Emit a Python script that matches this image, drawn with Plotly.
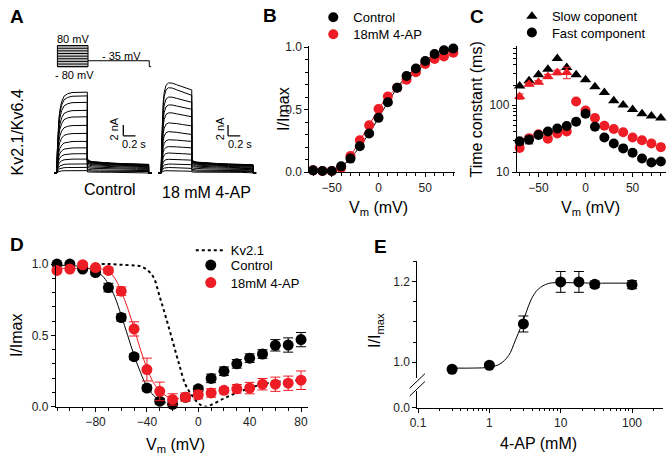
import plotly.graph_objects as go

W, H = 667, 463
RED = '#ee1c24'
FONT = 'Liberation Sans, Arial, sans-serif'

def fx(p):
    return p / W

def fy(p):
    return 1 - p / H

# ---------------- Panel A data (currents in nA, time in s) ----------------
rise_t = [0, 0.01, 0.02, 0.035, 0.05, 0.08, 0.12, 0.18, 0.25, 0.35, 0.5]
ctrl_rise = [0, 0.28, 0.48, 0.66, 0.77, 0.88, 0.95, 0.98, 0.995, 1.0, 1.0]
ap_rise = [0, 0.35, 0.58, 0.78, 0.88, 0.96, 0.99, 1.0, 1.0, 1.0, 1.0]
ap_inact = [1, 1, 1, 1, 1, 0.98, 0.93, 0.8, 0.62, 0.35, 0]
tail_t = [0, 0.03, 0.08, 0.2, 0.4, 0.6, 0.8, 1.0]
tail_frac = [1.0, 0.86, 0.8, 0.75, 0.7, 0.66, 0.63, 0.61]

ctrl_plateau = [15.1, 14.4, 13.2, 11.7, 10.5, 8.9, 7.4, 5.9, 4.7, 3.6, 2.6, 1.7, 1.05, 0.45]
ctrl_tail = [2.65, 2.6, 2.55, 2.5, 2.4, 2.3, 2.15, 1.95, 1.7, 1.4, 1.1, 0.75, 0.45, 0.2]
ap_peak = [17.1, 16.2, 14.4, 12.9, 11.4, 9.5, 7.85, 6.3, 5.0, 3.8, 2.6, 1.7, 1.05, 0.45]
ap_end = [15.5, 14.5, 13.2, 11.9, 10.5, 8.8, 7.2, 5.9, 4.7, 3.5, 2.4, 1.55, 0.87, 0.33]
ap_tail = [2.55, 2.5, 2.45, 2.4, 2.3, 2.2, 2.05, 1.85, 1.6, 1.35, 1.05, 0.7, 0.45, 0.2]

prot_steps = [-80, -60, -40, -20, 0, 20, 40, 60, 80]
prot_hold = -80
prot_tail = -35
step_dur = 0.5
tail_dur = 1.0

# ---------------- Panel B data ----------------
b_v = [-70, -60, -50, -40, -30, -20, -10, 0, 10, 20, 30, 40, 50, 60, 70, 80]
b_ctrl = [0.015, 0.01, 0.01, 0.047, 0.109, 0.208, 0.31, 0.435, 0.56, 0.675, 0.77, 0.83, 0.89, 0.945, 0.975, 0.99]
b_4ap = [0.015, 0.01, 0.01, 0.035, 0.13, 0.255, 0.375, 0.505, 0.605, 0.675, 0.74, 0.8, 0.865, 0.905, 0.925, 0.955]

# ---------------- Panel C data (ms) ----------------
c_v = [-70, -60, -50, -40, -30, -20, -10, 0, 10, 20, 30, 40, 50, 60, 70, 80]
c_slow_ctrl = [194, 232, 286, 346, 500, 366, 286, 241, 189, 155, 117, 101, 86.5, 74.6, 69, 64.6]
c_v_slow4ap = [-70, -60, -50, -40, -30, -20]
c_slow_4ap = [135, 205, 221, 269, 309, 309]
c_slow_4ap_err = [12, 10, 12, 20, 25, 60]
c_fast_ctrl = [28.9, 30.5, 36, 40.5, 45, 49, 56.6, 74.6, 47.9, 33, 26.8, 22.7, 19.5, 16, 14, 14.5]
c_fast_ctrl_err = [3, 4, 0, 0, 0, 0, 0, 0, 0, 0, 0, 0, 0, 0, 0, 0]
c_fast_4ap = [23.1, 32.3, 37, 31.7, 38, 40.5, 114, 83.6, 64.6, 49.5, 44.3, 39.5, 33, 30, 26.8, 23.7]

# ---------------- Panel D data ----------------
d_v = [-110, -100, -90, -80, -70, -60, -50, -40, -30, -20, -10, 0, 10, 20, 30, 40, 50, 60, 70, 80]
d_ctrl = [1.0, 1.0, 0.965, 0.94, 0.835, 0.625, 0.35, 0.13, 0.038, 0.016, 0.065, 0.125, 0.198, 0.248, 0.30, 0.34, 0.369, 0.43, 0.432, 0.47]
d_ctrl_err = [0.01, 0.01, 0.01, 0.015, 0.03, 0.025, 0.02, 0.02, 0.02, 0.02, 0.02, 0.02, 0.03, 0.03, 0.03, 0.03, 0.03, 0.04, 0.05, 0.05]
d_4ap = [0.955, 0.965, 0.995, 0.975, 0.955, 0.81, 0.545, 0.26, 0.107, 0.05, 0.066, 0.084, 0.096, 0.114, 0.125, 0.13, 0.157, 0.157, 0.164, 0.185]
d_4ap_err = [0.01, 0.01, 0.01, 0.01, 0.02, 0.03, 0.05, 0.08, 0.065, 0.04, 0.03, 0.03, 0.03, 0.02, 0.03, 0.04, 0.04, 0.05, 0.05, 0.065]
d_fit_v_ctrl = [-110, -100, -90, -80, -75, -70, -65, -60, -55, -50, -45, -40, -35, -30, -25]
d_fit_ctrl = [0.99, 0.99, 0.98, 0.95, 0.92, 0.86, 0.77, 0.64, 0.50, 0.36, 0.24, 0.14, 0.08, 0.045, 0.025]
d_fit_v_4ap = [-110, -100, -90, -80, -75, -70, -65, -60, -55, -50, -45, -40, -35, -30, -25, -20, -15]
d_fit_4ap = [0.97, 0.97, 0.97, 0.97, 0.965, 0.95, 0.90, 0.81, 0.69, 0.55, 0.40, 0.27, 0.17, 0.11, 0.075, 0.06, 0.055]
kv21_v = [-80, -70, -60, -50, -45, -40, -35, -30, -25, -20, -15, -10, -5, 0, 5, 10, 20, 30, 40, 50, 60, 70, 80]
kv21 = [1.0, 1.0, 0.995, 0.99, 0.985, 0.96, 0.91, 0.77, 0.62, 0.46, 0.30, 0.155, 0.08, 0.025, 0.0, 0.012, 0.058, 0.097, 0.13, 0.158, 0.172, 0.18, 0.187]

# ---------------- Panel E data ----------------
e_c = [0.3, 1, 3, 10, 18, 30, 100]
e_y = [0.982, 0.992, 1.095, 1.2, 1.2, 1.194, 1.193]
e_err = [0.004, 0.004, 0.02, 0.026, 0.026, 0.008, 0.01]
e_fit_c = [0.3, 0.6, 1.0, 1.4, 1.86, 2.3, 2.8, 3.3, 3.9, 4.85, 6.7, 10, 30, 100]
e_fit_y = [0.985, 0.985, 0.987, 0.995, 1.016, 1.053, 1.09, 1.125, 1.158, 1.182, 1.196, 1.198, 1.197, 1.197]

fig = go.Figure()

# ---------- Panel A traces ----------
def build_ctrl():
    xs, ys = [], []
    for amp, tl in zip(ctrl_plateau, ctrl_tail):
        xs += [-0.04]
        ys += [0]
        xs += rise_t
        ys += [amp * f for f in ctrl_rise]
        xs += [step_dur + t for t in tail_t]
        ys += [tl * f for f in tail_frac]
        xs += [step_dur + tail_dur, step_dur + tail_dur + 0.05, None]
        ys += [0, 0, None]
    return xs, ys

def build_ap():
    xs, ys = [], []
    for pk, en, tl in zip(ap_peak, ap_end, ap_tail):
        xs += [-0.04]
        ys += [0]
        xs += rise_t
        ys += [r * (en + (pk - en) * q) for r, q in zip(ap_rise, ap_inact)]
        xs += [step_dur + t for t in tail_t]
        ys += [tl * f for f in tail_frac]
        xs += [step_dur + tail_dur, step_dur + tail_dur + 0.05, None]
        ys += [0, 0, None]
    return xs, ys

cx, cy = build_ctrl()
fig.add_trace(go.Scatter(x=cx, y=cy, mode='lines', line=dict(color='black', width=1),
                         xaxis='x6', yaxis='y6', showlegend=False, hoverinfo='skip'))
ax_, ay_ = build_ap()
fig.add_trace(go.Scatter(x=ax_, y=ay_, mode='lines', line=dict(color='black', width=1),
                         xaxis='x7', yaxis='y7', showlegend=False, hoverinfo='skip'))

# protocol
fig.add_trace(go.Scatter(x=[0, 0, step_dur, step_dur, 0], y=[prot_hold, max(prot_steps), max(prot_steps), prot_hold, prot_hold],
                         mode='lines', fill='toself', fillcolor='rgb(200,200,200)', line=dict(color='black', width=1),
                         xaxis='x8', yaxis='y8', showlegend=False, hoverinfo='skip'))
px_, py_ = [], []
for v in prot_steps:
    px_ += [0, step_dur, None]
    py_ += [v, v, None]
px_ += [step_dur, step_dur + tail_dur, step_dur + tail_dur, step_dur + tail_dur + 0.03]
py_ += [prot_tail, prot_tail, prot_hold, prot_hold]
fig.add_trace(go.Scatter(x=px_, y=py_, mode='lines', line=dict(color='black', width=1),
                         xaxis='x8', yaxis='y8', showlegend=False, hoverinfo='skip'))

# ---------- Panel B ----------
fig.add_trace(go.Scatter(x=b_v, y=b_4ap, mode='lines', showlegend=False,
                         line=dict(color=RED, width=1, shape='spline'), xaxis='x', yaxis='y'))
fig.add_trace(go.Scatter(x=b_v, y=b_ctrl, mode='lines', showlegend=False,
                         line=dict(color='black', width=1, shape='spline'), xaxis='x', yaxis='y'))
fig.add_trace(go.Scatter(x=b_v, y=b_4ap, mode='markers', name='18mM 4-AP', legend='legend2',
                         marker=dict(color=RED, size=10), cliponaxis=False, xaxis='x', yaxis='y'))
fig.add_trace(go.Scatter(x=b_v, y=b_ctrl, mode='markers', name='Control', legend='legend',
                         marker=dict(color='black', size=10), cliponaxis=False, xaxis='x', yaxis='y'))

# ---------- Panel C ----------
fig.add_trace(go.Scatter(x=c_v, y=c_slow_ctrl, mode='markers', name='Slow coponent', legend='legend3',
                         marker=dict(color='black', size=10, symbol='triangle-up'), cliponaxis=False,
                         xaxis='x2', yaxis='y2'))
fig.add_trace(go.Scatter(x=c_v_slow4ap, y=c_slow_4ap, mode='markers', showlegend=False,
                         error_y=dict(type='data', array=c_slow_4ap_err, color=RED, thickness=1, width=4),
                         marker=dict(color=RED, size=10, symbol='triangle-up'), cliponaxis=False,
                         xaxis='x2', yaxis='y2'))
fig.add_trace(go.Scatter(x=c_v, y=c_fast_4ap, mode='markers', showlegend=False,
                         marker=dict(color=RED, size=10), cliponaxis=False, xaxis='x2', yaxis='y2'))
fig.add_trace(go.Scatter(x=c_v, y=c_fast_ctrl, mode='markers', name='Fast component', legend='legend4',
                         error_y=dict(type='data', array=c_fast_ctrl_err, color='black', thickness=1, width=4),
                         marker=dict(color='black', size=10), cliponaxis=False, xaxis='x2', yaxis='y2'))

# ---------- Panel D ----------
fig.add_trace(go.Scatter(x=kv21_v, y=kv21, mode='lines', name='Kv2.1', legend='legend5',
                         line=dict(color='black', width=2, dash='dot', shape='spline'),
                         xaxis='x3', yaxis='y3'))
fig.add_trace(go.Scatter(x=d_fit_v_ctrl, y=d_fit_ctrl, mode='lines', showlegend=False,
                         line=dict(color='black', width=1, shape='spline'), xaxis='x3', yaxis='y3'))
fig.add_trace(go.Scatter(x=d_fit_v_4ap, y=d_fit_4ap, mode='lines', showlegend=False,
                         line=dict(color=RED, width=1, shape='spline'), xaxis='x3', yaxis='y3'))
fig.add_trace(go.Scatter(x=d_v, y=d_ctrl, mode='markers', name='Control', legend='legend6',
                         error_y=dict(type='data', array=d_ctrl_err, color='black', thickness=1, width=5),
                         marker=dict(color='black', size=11), cliponaxis=False, xaxis='x3', yaxis='y3'))
fig.add_trace(go.Scatter(x=d_v, y=d_4ap, mode='markers', name='18mM 4-AP', legend='legend7',
                         error_y=dict(type='data', array=d_4ap_err, color=RED, thickness=1, width=5),
                         marker=dict(color=RED, size=11), cliponaxis=False, xaxis='x3', yaxis='y3'))

# ---------- Panel E ----------
fig.add_trace(go.Scatter(x=[], y=[], mode='markers', showlegend=False, xaxis='x4', yaxis='y4'))
fig.add_trace(go.Scatter(x=e_fit_c, y=e_fit_y, mode='lines', showlegend=False,
                         line=dict(color='black', width=1, shape='spline'), xaxis='x4', yaxis='y5'))
fig.add_trace(go.Scatter(x=e_c, y=e_y, mode='markers', showlegend=False,
                         error_y=dict(type='data', array=e_err, color='black', thickness=1, width=5),
                         marker=dict(color='black', size=11), cliponaxis=False, xaxis='x4', yaxis='y5'))

tickfont = dict(family=FONT, size=12, color='#222')
base_axis = dict(showline=True, linecolor='black', linewidth=1, ticks='outside', ticklen=4,
                 tickcolor='black', showgrid=False, zeroline=False, tickfont=tickfont)
hidden = dict(visible=False, showgrid=False, zeroline=False)

def leg(xpx, ypx):
    return dict(x=fx(xpx), y=fy(ypx), xanchor='left', yanchor='middle', bgcolor='rgba(0,0,0,0)',
                font=dict(family=FONT, size=13, color='black'), itemsizing='trace', borderwidth=0)

layout = dict(
    width=W, height=H, margin=dict(l=0, r=0, t=0, b=0),
    paper_bgcolor='white', plot_bgcolor='white',
    font=dict(family=FONT, color='black'),
    xaxis=dict(base_axis, domain=[fx(305), fx(452.6)], range=[-74, 82], tickvals=[-50, 0, 50],
               minor=dict(dtick=10, tick0=0, ticks='outside', ticklen=3, tickcolor='black'), anchor='y'),
    yaxis=dict(base_axis, domain=[fy(171.7), fy(41.7)], range=[0, 1.0125], tickvals=[0, 0.5, 1.0],
               tickformat='.1f', minor=dict(dtick=0.1, tick0=0, ticks='outside', ticklen=3, tickcolor='black'),
               anchor='x'),
    xaxis2=dict(base_axis, domain=[fx(515), fx(666)], range=[-73, 85.5], tickvals=[-50, 0, 50],
                minor=dict(dtick=10, tick0=0, ticks='outside', ticklen=3, tickcolor='black'), anchor='y2'),
    yaxis2=dict(base_axis, type='log', domain=[fy(171.7), fy(41.7)], range=[1, 2.89],
                tickvals=[10, 100], ticktext=['10', '100'],
                minor=dict(tickvals=[20, 30, 40, 50, 60, 70, 80, 90, 200, 300, 400, 500, 600, 700],
                           ticks='outside', ticklen=2.5, tickcolor='black'), anchor='x2'),
    xaxis3=dict(base_axis, domain=[fx(48.3), fx(304)], range=[-111, 85.7], tickvals=[-80, -40, 0, 40, 80],
                minor=dict(dtick=10, tick0=0, ticks='outside', ticklen=3, tickcolor='black'), anchor='y3'),
    yaxis3=dict(base_axis, domain=[fy(412.3), fy(263.3)], range=[0, 1.018], tickvals=[0, 0.5, 1.0],
                tickformat='.1f', minor=dict(dtick=0.1, tick0=0, ticks='outside', ticklen=3, tickcolor='black'),
                anchor='x3'),
    xaxis4=dict(base_axis, type='log', domain=[fx(414.3), fx(663)], range=[-1.01, 2.435],
                tickvals=[0.1, 1, 10, 100], ticktext=['0.1', '1', '10', '100'],
                minor=dict(tickvals=[0.2, 0.3, 0.4, 0.5, 0.6, 0.7, 0.8, 0.9, 2, 3, 4, 5, 6, 7, 8, 9,
                                     20, 30, 40, 50, 60, 70, 80, 90, 200],
                           ticks='outside', ticklen=2.5, tickcolor='black'), anchor='y4'),
    yaxis4=dict(base_axis, domain=[fy(413.3), fy(396)], range=[0, 0.042], tickvals=[0], ticktext=['0.0'],
                anchor='x4'),
    yaxis5=dict(base_axis, domain=[fy(383), fy(263.3)], range=[0.960, 1.251], tickvals=[1.0, 1.2],
                tickformat='.1f', minor=dict(dtick=0.05, tick0=0, ticks='outside', ticklen=3, tickcolor='black'),
                anchor='x4'),
    xaxis6=dict(hidden, domain=[fx(40), fx(150)], range=[(40 - 49.3) / 62, (150 - 49.3) / 62], anchor='y6'),
    yaxis6=dict(hidden, domain=[fy(176), fy(70)], range=[(172.5 - 176) / 5.5, (172.5 - 70) / 5.5], anchor='x6'),
    xaxis7=dict(hidden, domain=[fx(150), fx(260)], range=[(150 - 155) / 62, (260 - 155) / 62], anchor='y7'),
    yaxis7=dict(hidden, domain=[fy(176), fy(70)], range=[(172.5 - 176) / 5.5, (172.5 - 70) / 5.5], anchor='x7'),
    xaxis8=dict(hidden, domain=[fx(40), fx(160)], range=[(40 - 50) / 62, (160 - 50) / 62], anchor='y8'),
    yaxis8=dict(hidden, domain=[fy(70), fy(35)], range=[-80 - (70 - 63.3) / 0.135, 80 + (41.7 - 35) / 0.135],
                anchor='x8'),
    legend=leg(309, 12.7),
    legend2=leg(309, 30),
    legend3=leg(510, 11.7),
    legend4=leg(510, 28.3),
    legend5=leg(185, 251.7),
    legend6=leg(185, 267),
    legend7=leg(185, 285),
)
fig.update_layout(**layout)

ann = []
def txt(x, y, s, size=16, angle=0, bold=False):
    ann.append(dict(x=fx(x), y=fy(y), xref='paper', yref='paper', text=('<b>%s</b>' % s) if bold else s,
                    showarrow=False, textangle=angle, xanchor='center', yanchor='middle',
                    font=dict(family=FONT, size=size, color='black')))

# panel letters
txt(9, 12, 'A', 19, bold=True)
txt(265, 11, 'B', 19, bold=True)
txt(475, 12, 'C', 19, bold=True)
txt(9, 246, 'D', 19, bold=True)
txt(377, 248, 'E', 19, bold=True)
# axis titles
txt(375, 209, 'V<sub>m</sub> (mV)', 16)
txt(279, 107, 'I/Imax', 16, angle=-90)
txt(590, 209, 'V<sub>m</sub> (mV)', 16)
txt(474, 107, 'Time constant (ms)', 16, angle=-90)
txt(170, 452, 'V<sub>m</sub> (mV)', 16)
txt(8, 339, 'I/Imax', 16, angle=-90)
txt(537, 450, '4-AP (mM)', 16)
txt(372, 334, 'I/I<sub>max</sub>', 16, angle=-90)
# panel A texts
txt(10, 131, 'Kv2.1/Kv6.4', 16, angle=-90)
txt(103, 189, 'Control', 16)
txt(201, 192, '18 mM 4-AP', 16)
txt(66, 35, '80 mV', 11)
txt(115, 52, '- 35 mV', 11)
txt(67, 72, '- 80 mV', 11)
txt(107, 127, '2 nA', 11, angle=-90)
txt(128, 143, '0.2 s', 11)
txt(214, 127, '2 nA', 11, angle=-90)
txt(235, 143, '0.2 s', 11)

shapes = []
# scale bars (in data units of the trace axes)
for xa, ya, t0 in (('x6', 'y6', (116.7 - 49.3) / 62), ('x7', 'y7', (222.7 - 155) / 62)):
    y0 = (172.5 - 134.3) / 5.5
    shapes.append(dict(type='line', xref=xa, yref=ya, x0=t0, x1=t0, y0=y0, y1=y0 + 2,
                       line=dict(color='black', width=1.3)))
    shapes.append(dict(type='line', xref=xa, yref=ya, x0=t0, x1=t0 + 0.2, y0=y0, y1=y0,
                       line=dict(color='black', width=1.3)))
# axis break marks in panel E
for yy in (386, 394):
    shapes.append(dict(type='line', xref='paper', yref='paper', x0=fx(406.5), x1=fx(422),
                       y0=fy(yy + 7.5), y1=fy(yy - 7.5), line=dict(color='black', width=1)))

fig.update_layout(annotations=ann, shapes=shapes)
fig.write_html('out.html', config={'displayModeBar': False},
               post_script="document.body.style.margin='0px';")
